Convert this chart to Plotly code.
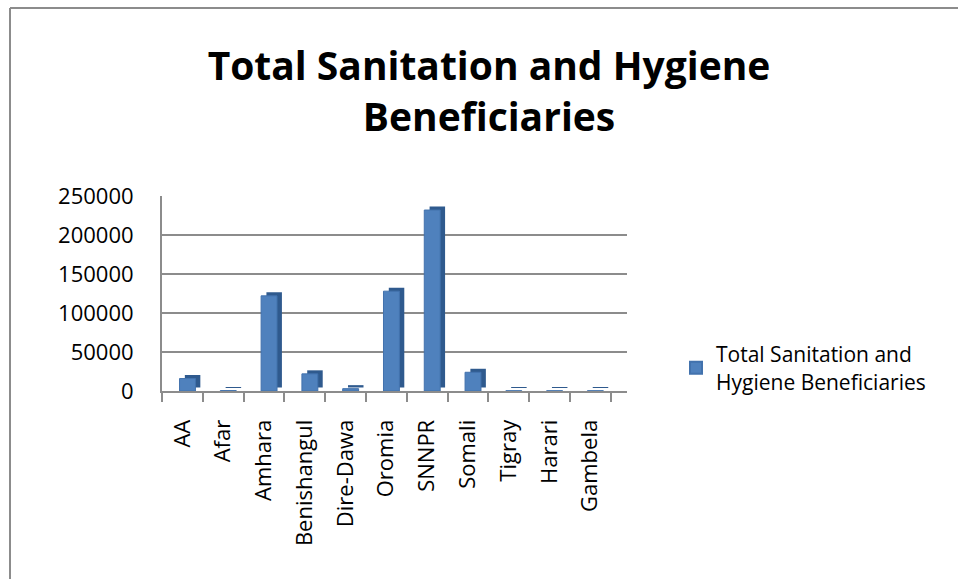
import plotly.graph_objects as go

categories = ["AA", "Afar", "Amhara", "Benishangul", "Dire-Dawa", "Oromia",
              "SNNPR", "Somali", "Tigray", "Harari", "Gambela"]
values = [16000, 500, 122000, 22000, 3000, 128000, 232000, 24000, 300, 300, 300]
series_name = "Total Sanitation and Hygiene Beneficiaries"
y_ticks = [0, 50000, 100000, 150000, 200000, 250000]

W, H = 958, 579
L, R, T, B = 162, 331, 196, 188
PW, PH = W - L - R, H - T - B

FONT = "'Open Sans', Lato, sans-serif"
depth = 4500

fig = go.Figure()
# side / depth face (darker), drawn behind
fig.add_trace(go.Bar(
    x=categories, y=values, base=[depth] * len(values),
    offset=0.06, width=0.38,
    marker=dict(color="#2F5A8E", line=dict(width=0)),
    showlegend=False, hoverinfo="skip"))
# front face
fig.add_trace(go.Bar(
    x=categories, y=values, base=[0] * len(values),
    offset=-0.07, width=0.39, name="Total Sanitation and<br>Hygiene Beneficiaries",
    marker=dict(color="#4F81BD", line=dict(color="#4272AD", width=1))))


def px_x(p):
    return (p - L) / PW


def px_y(p):
    return (H - B - p) / PH


shapes = [
    dict(type="line", xref="paper", yref="paper", x0=px_x(10), x1=px_x(958),
         y0=px_y(8), y1=px_y(8), line=dict(color="#8C8C8C", width=2)),
    dict(type="line", xref="paper", yref="paper", x0=px_x(10), x1=px_x(10),
         y0=px_y(8), y1=px_y(579), line=dict(color="#8C8C8C", width=2)),
]

fig.update_layout(
    width=W, height=H,
    margin=dict(l=L, r=R, t=T, b=B, autoexpand=False),
    paper_bgcolor="white", plot_bgcolor="white",
    barmode="overlay",
    font=dict(family=FONT, color="#000000"),
    title=dict(text="Total Sanitation and Hygiene<br>Beneficiaries",
               font=dict(family=FONT, size=39, color="#000000", weight="bold"),
               x=489 / W, xanchor="center", xref="container",
               y=1 - 80 / H, yanchor="top", yref="container"),
    xaxis=dict(
        type="category", range=[-0.5, 10.9],
        tickangle=-90, tickfont=dict(size=22, color="#000000"),
        ticks="outside", tickson="boundaries", ticklen=9, tickwidth=2, tickcolor="#8C8C8C",
        ticklabelstandoff=18,
        showline=True, linecolor="#8C8C8C", linewidth=2,
        showgrid=False, zeroline=False, fixedrange=True),
    yaxis=dict(
        range=[0, 250000], tickvals=y_ticks, tickformat="d",
        tickfont=dict(size=22, color="#000000"),
        ticks="", ticklabelstandoff=22,
        showline=True, linecolor="#8C8C8C", linewidth=2,
        showgrid=True, gridcolor="#8C8C8C", gridwidth=2,
        zeroline=False, fixedrange=True),
    legend=dict(x=676 / W, xref="container", xanchor="left",
                y=1 - 334 / H, yref="container", yanchor="top",
                font=dict(family=FONT, size=21, color="#000000"),
                bgcolor="rgba(0,0,0,0)", itemsizing="constant"),
    shapes=shapes,
    showlegend=True,
)

fig.write_html("out.html")
